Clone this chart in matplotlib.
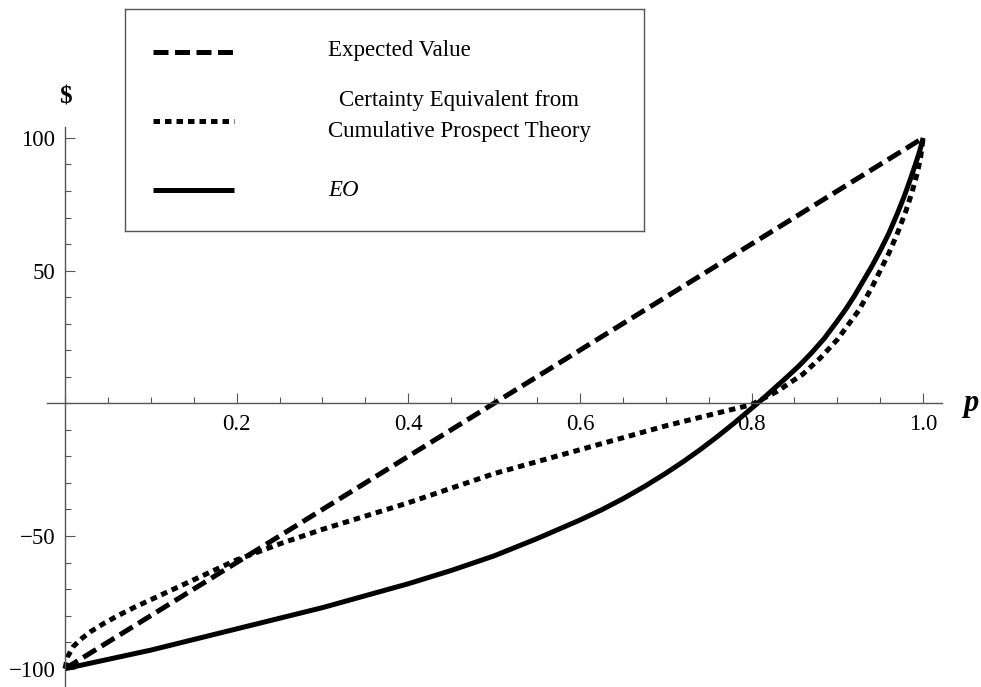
import matplotlib
matplotlib.use("Agg")
import matplotlib.pyplot as plt
from matplotlib.ticker import FixedLocator, MultipleLocator

plt.rcParams['font.family'] = ['Liberation Serif', 'DejaVu Serif']

# values
ev_p = [0.0, 1.0]
ev_val = [-100, 100]

cpt_p = [0, 0.003, 0.01, 0.02, 0.03, 0.045, 0.06, 0.08, 0.1, 0.15, 0.2, 0.25,
         0.3, 0.35, 0.4, 0.45, 0.5, 0.55, 0.6, 0.65, 0.7, 0.75, 0.8, 0.83,
         0.86, 0.88, 0.9, 0.925, 0.94, 0.95, 0.96, 0.97, 0.98, 0.987, 0.993,
         0.997, 1.0]
cpt_val = [-100, -95.5, -91.5, -88.5, -86, -83, -80.3, -77, -74, -66.5, -59,
           -53, -47.5, -42.5, -37.5, -32, -26.5, -22, -17.5, -13, -8.5, -4.5,
           -0.5, 4.5, 11, 17, 24, 35, 43.5, 50, 56.5, 64, 72.5, 79.5, 86.5,
           92.5, 100]

eo_p = [0, 0.05, 0.1, 0.15, 0.2, 0.25, 0.3, 0.35, 0.4, 0.45, 0.5, 0.55, 0.6,
        0.625, 0.65, 0.675, 0.7, 0.72, 0.74, 0.76, 0.78, 0.81, 0.84, 0.855,
        0.87, 0.885, 0.9, 0.91, 0.92, 0.93, 0.94, 0.95, 0.96, 0.97, 0.978,
        0.985, 0.991, 0.996, 1.0]
eo_val = [-100, -96.5, -93, -89, -85, -81, -77, -72.5, -68, -63, -57.5, -51,
          -44, -40.2, -36, -31.4, -26.4, -22.1, -17.5, -12.6, -7.4, 0.8, 9.5,
          14, 19, 24.5, 31, 35.5, 40.5, 46, 51.5, 57.5, 64, 71.5, 78, 84.3,
          90, 95, 100]

labels = ["Expected Value",
          "Certainty Equivalent from\nCumulative Prospect Theory",
          "EO"]

x_major = [0.2, 0.4, 0.6, 0.8, 1.0]
y_major = [-100, -50, 50, 100]

axis_col = '#555555'
lw = 3.6
dash_style = (0, (3.0, 1.3))
dot_style = (0, (1.3, 1.0))

fig = plt.figure(figsize=(9.81, 6.87), dpi=100)
ax = fig.add_axes([47 / 981, 0, 895 / 981, 560 / 687])

ax.plot(ev_p, ev_val, color='black', lw=lw, linestyle=dash_style,
        dash_capstyle='butt')
ax.plot(cpt_p, cpt_val, color='black', lw=lw, linestyle=dot_style,
        dash_capstyle='butt')
ax.plot(eo_p, eo_val, color='black', lw=lw, solid_capstyle='butt')

ax.set_xlim(-0.021, 1.022)
ax.set_ylim(-106.9, 104.1)

for s in ['top', 'right']:
    ax.spines[s].set_visible(False)
ax.spines['left'].set_position(('data', 0))
ax.spines['bottom'].set_position(('data', 0))
for s in ['left', 'bottom']:
    ax.spines[s].set_color(axis_col)
    ax.spines[s].set_linewidth(1.0)

ax.xaxis.set_major_locator(FixedLocator(x_major))
ax.xaxis.set_minor_locator(MultipleLocator(0.05))
ax.yaxis.set_major_locator(FixedLocator(y_major))
ax.yaxis.set_minor_locator(MultipleLocator(10))
ax.set_xticklabels(["0.2", "0.4", "0.6", "0.8", "1.0"])
ax.set_yticklabels(["\u2212100", "\u221250", "50", "100"])
ax.tick_params(which='major', direction='in', length=7.2, width=0.8,
               color=axis_col, labelsize=16.5, pad=8)
ax.tick_params(which='minor', direction='in', length=4.3, width=0.8,
               color=axis_col)
ax.tick_params(axis='y', which='major', pad=7)

ax.text(0, 115.5, "$", fontsize=18, fontweight='bold', ha='center',
        va='center', clip_on=False)
ax.text(1.055, 0, "p", fontsize=22, fontweight='bold', style='italic',
        ha='center', va='center', clip_on=False)

# legend box
lax = fig.add_axes([125 / 981, 1 - 231 / 687, 519 / 981, 222 / 687])
lax.set_xlim(0, 1)
lax.set_ylim(0, 1)
lax.set_xticks([])
lax.set_yticks([])
for s in lax.spines.values():
    s.set_color(axis_col)
    s.set_linewidth(1.0)

key_y = [0.806, 0.495, 0.185]
text_y = [0.815, 0.518, 0.182]
styles = [dash_style, dot_style, '-']
for ky, ty, st, lab in zip(key_y, text_y, styles, labels):
    lax.plot([0.054, 0.21], [ky, ky], color='black', lw=lw, linestyle=st,
             dash_capstyle='butt', solid_capstyle='butt')
    lax.text(0.391, ty, lab, fontsize=16.5, ha='left', va='center',
             multialignment='center', linespacing=1.63,
             style='italic' if lab == "EO" else 'normal')

fig.savefig("out.png", dpi=100)
